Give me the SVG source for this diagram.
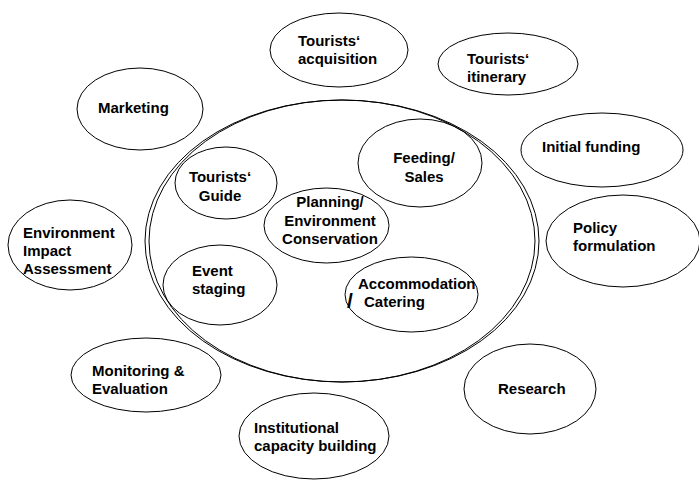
<svg xmlns="http://www.w3.org/2000/svg" width="699" height="481" viewBox="0 0 699 481">
<style>
ellipse{fill:none;stroke:#000;stroke-width:1}
text{font-family:"Liberation Sans",Arial,sans-serif;font-weight:bold;font-size:15px;fill:#000}
.m{text-anchor:middle}
</style>
<rect width="699" height="481" fill="#fff"/>
<g id="container">
<ellipse cx="342" cy="241" rx="197" ry="141"/>
<ellipse cx="342" cy="241" rx="193" ry="141"/>
</g>
<g id="tourists-acquisition">
<ellipse cx="339" cy="50" rx="69" ry="37"/>
<text x="298" y="46">Tourists‘</text>
<text x="298" y="64">acquisition</text>
</g>
<g id="tourists-itinerary">
<ellipse cx="508" cy="64" rx="70" ry="31"/>
<text x="467" y="64">Tourists‘</text>
<text x="467" y="82">itinerary</text>
</g>
<g id="initial-funding">
<ellipse cx="602" cy="150" rx="81" ry="37"/>
<text x="542" y="152">Initial funding</text>
</g>
<g id="policy-formulation">
<ellipse cx="623" cy="241" rx="77" ry="46"/>
<text x="573" y="233">Policy</text>
<text x="573" y="251">formulation</text>
</g>
<g id="research">
<ellipse cx="530" cy="389" rx="66" ry="45"/>
<text x="498" y="394">Research</text>
</g>
<g id="institutional-capacity-building">
<ellipse cx="314" cy="436" rx="75" ry="43"/>
<text x="254" y="433">Institutional</text>
<text x="254" y="451">capacity building</text>
</g>
<g id="monitoring-evaluation">
<ellipse cx="146" cy="375" rx="75" ry="37"/>
<text x="92" y="376">Monitoring &amp;</text>
<text x="92" y="394">Evaluation</text>
</g>
<g id="environment-impact-assessment">
<ellipse cx="70" cy="245" rx="62" ry="45"/>
<text x="23" y="238">Environment</text>
<text x="23" y="256">Impact</text>
<text x="23" y="274">Assessment</text>
</g>
<g id="marketing">
<ellipse cx="140" cy="109" rx="63" ry="41"/>
<text x="98" y="113">Marketing</text>
</g>
<g id="tourists-guide">
<ellipse cx="226" cy="183" rx="51" ry="36"/>
<text class="m" x="220" y="182">Tourists‘</text>
<text class="m" x="220" y="201">Guide</text>
</g>
<g id="planning-environment-conservation">
<ellipse cx="326.5" cy="225.5" rx="62.5" ry="37.5"/>
<text class="m" x="330" y="207">Planning/</text>
<text class="m" x="330" y="226">Environment</text>
<text class="m" x="330" y="244">Conservation</text>
</g>
<g id="feeding-sales">
<ellipse cx="420" cy="163" rx="62" ry="44"/>
<text class="m" x="424" y="163">Feeding/</text>
<text class="m" x="424" y="182">Sales</text>
</g>
<g id="event-staging">
<ellipse cx="220" cy="285" rx="57" ry="40"/>
<text x="192" y="276">Event</text>
<text x="192" y="294">staging</text>
</g>
<g id="accommodation-catering">
<ellipse cx="411.5" cy="294.5" rx="66.5" ry="37.5"/>
<text x="358" y="289">Accommodation</text>
<text x="347" y="308" style="font-size:21px">/</text>
<text x="364" y="307">Catering</text>
</g>
</svg>
